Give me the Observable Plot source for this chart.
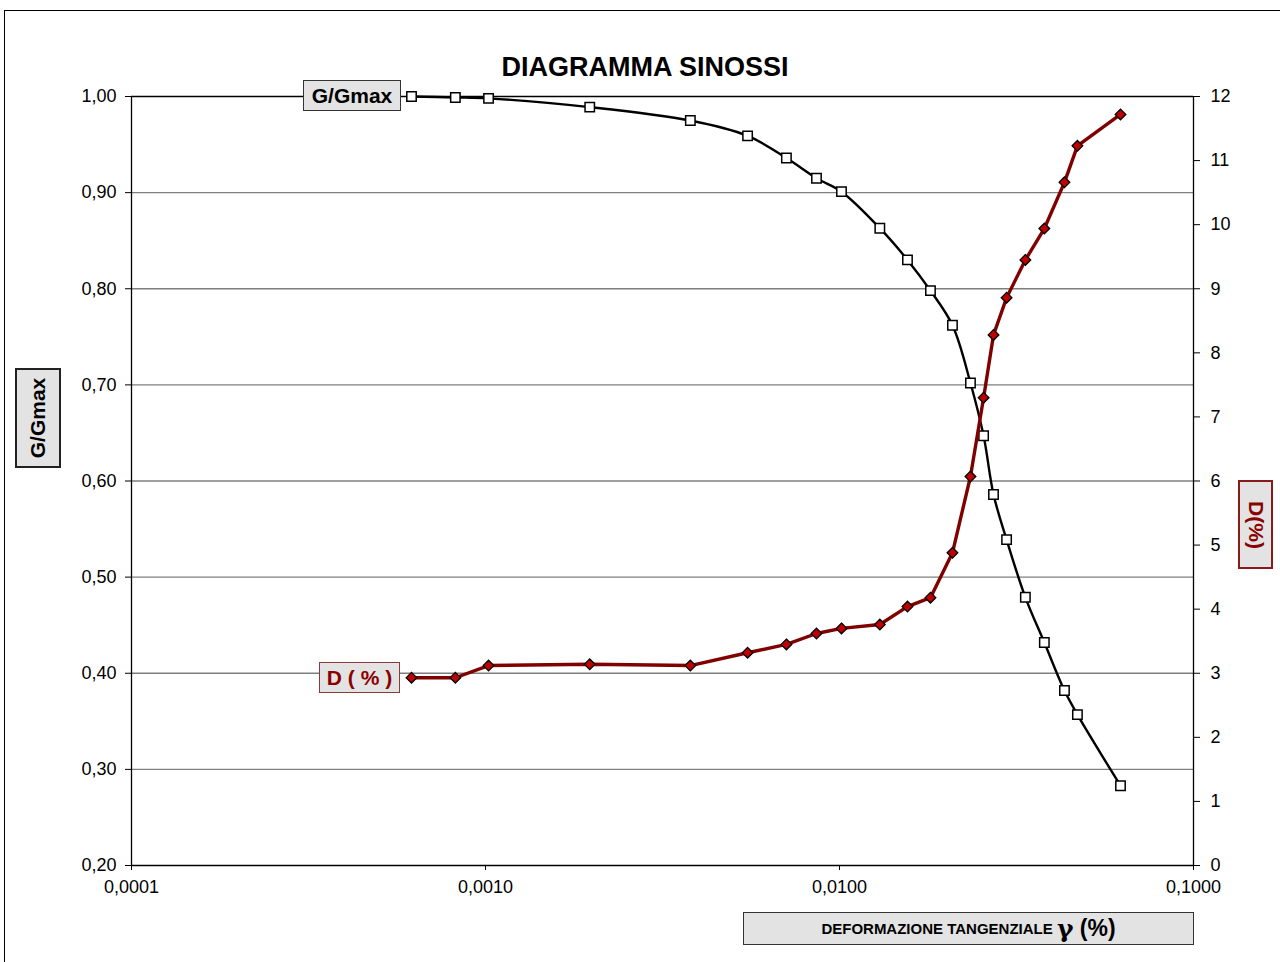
<!DOCTYPE html>
<html>
<head>
<meta charset="utf-8">
<script src="https://cdn.jsdelivr.net/npm/d3@7"></script>
<script src="https://cdn.jsdelivr.net/npm/@observablehq/plot@0.6"></script>
<style>
  html, body { margin: 0; padding: 0; background: #fff; }
  body { font-family: "Liberation Sans", Arial, sans-serif; }
  #wrap { position: relative; width: 1280px; height: 962px; overflow: hidden; }
  #frame { position: absolute; left: 4px; top: 10px; width: 1400px; height: 1000px;
           border-left: 1px solid #000; border-top: 1px solid #000; box-sizing: border-box; }
  #chart { position: absolute; left: 0; top: 0; }
  .title { position: absolute; left: 645px; top: 52px; transform: translateX(-50%);
           font-weight: bold; font-size: 27px; white-space: nowrap; color: #000; }
  .box { position: absolute; display: flex; align-items: center; justify-content: center;
         background: #e3e3e3; box-sizing: border-box; font-weight: bold; white-space: nowrap; }
</style>
</head>
<body>
<div id="wrap">
  <div id="frame"></div>
  <div id="chart"></div>
  <div class="title">DIAGRAMMA SINOSSI</div>
  <div class="box" style="left:303px;top:80px;width:98px;height:31px;border:1px solid #333;font-size:21px;color:#000;">G/Gmax</div>
  <div class="box" style="left:319px;top:662px;width:81px;height:31px;border:1px solid #8b3a3a;font-size:21px;color:#8b0000;">D ( % )</div>
  <div class="box" style="left:15px;top:368px;width:46px;height:100px;border:2px solid #222;font-size:21px;color:#000;">
    <span style="display:inline-block;transform:rotate(-90deg);">G/Gmax</span></div>
  <div class="box" style="left:1238px;top:480px;width:35px;height:89px;border:2px solid #8b1a1a;font-size:21px;color:#8b0000;">
    <span style="display:inline-block;transform:rotate(90deg);">D(%)</span></div>
  <div class="box" style="left:743px;top:912px;width:451px;height:33px;border:1px solid #333;color:#000;">
    <span style="font-size:15px;">DEFORMAZIONE TANGENZIALE&nbsp;</span><span style="font-size:25px;font-family:'DejaVu Serif',serif;">γ</span><span style="font-size:23px;">&nbsp;(%)</span></div>
</div>
<script>
// Shear strain (%)
const strain = [0.000618, 0.000822, 0.00102, 0.00197, 0.00379, 0.00550, 0.00708, 0.00861, 0.01013, 0.0130,
                0.01556, 0.01807, 0.02085, 0.02344, 0.02553, 0.02723, 0.02965, 0.0335, 0.0379, 0.0432, 0.0470, 0.0622];
// Normalised shear modulus G/Gmax
const gRatio = [1.000, 0.999, 0.998, 0.989, 0.975, 0.959, 0.936, 0.915, 0.901, 0.863,
                0.830, 0.798, 0.762, 0.702, 0.647, 0.586, 0.539, 0.479, 0.432, 0.382, 0.357, 0.283];
// Damping ratio D (%)
const damping = [2.93, 2.93, 3.12, 3.14, 3.12, 3.32, 3.45, 3.62, 3.70, 3.76,
                 4.04, 4.18, 4.88, 6.07, 7.30, 8.28, 8.86, 9.45, 9.94, 10.66, 11.23, 11.72];

const xTicks = [0.0001, 0.001, 0.01, 0.1];
const xTickLabels = ["0,0001", "0,0010", "0,0100", "0,1000"];
const leftTicks = [0.2, 0.3, 0.4, 0.5, 0.6, 0.7, 0.8, 0.9, 1.0];
const rightTicks = [0, 1, 2, 3, 4, 5, 6, 7, 8, 9, 10, 11, 12];
const gridLines = [0.3, 0.4, 0.5, 0.6, 0.7, 0.8, 0.9];

// map D (0..12) onto the G/Gmax scale (0.2..1.0) for the secondary axis
const gMin = 0.2, gMax = 1.0, dMax = 12;
const dToG = d => gMin + d / dMax * (gMax - gMin);

const gData = strain.map((s, i) => ({x: s, y: gRatio[i]}));
const dData = strain.map((s, i) => ({x: s, y: dToG(damping[i])}));

const comma = s => s.replace(".", ",");

const chart = Plot.plot({
  width: 1280,
  height: 962,
  marginLeft: 131,
  marginRight: 87,
  marginTop: 96,
  marginBottom: 97,
  style: {fontFamily: "'Liberation Sans', Arial, sans-serif", fontSize: "18px", background: "transparent", color: "#000"},
  x: {type: "log", domain: [0.0001, 0.1]},
  y: {domain: [gMin, gMax]},
  marks: [
    Plot.ruleY(gridLines, {stroke: "#7f7f7f", strokeWidth: 1.3}),
    Plot.ruleY([gMax], {stroke: "#000", strokeWidth: 1.3}),
    Plot.ruleY([gMin], {stroke: "#000", strokeWidth: 1.3}),
    Plot.ruleX([0.0001], {stroke: "#000", strokeWidth: 1.3}),
    Plot.ruleX([0.1], {stroke: "#000", strokeWidth: 1.3}),
    Plot.axisY(leftTicks, {anchor: "left", tickSize: 6, tickPadding: 9, fontSize: 18,
      tickFormat: d => comma(d3.format(".2f")(d)), label: null}),
    Plot.axisY(rightTicks.map(dToG), {anchor: "right", tickSize: 6, tickPadding: 11, fontSize: 18,
      tickFormat: d => String(Math.round((d - gMin) / (gMax - gMin) * dMax)), label: null}),
    Plot.axisX(xTicks, {anchor: "bottom", tickSize: 5, tickPadding: 10, fontSize: 18,
      tickFormat: d => xTickLabels[xTicks.indexOf(d)], label: null}),
    Plot.line(gData, {x: "x", y: "y", stroke: "#000", strokeWidth: 2.4, curve: "catmull-rom"}),
    Plot.dot(gData, {x: "x", y: "y", symbol: "square", r: 5.3, fill: "#fff", stroke: "#000", strokeWidth: 1.5}),
    Plot.line(dData, {x: "x", y: "y", stroke: "#800000", strokeWidth: 3.4}),
    Plot.dot(dData, {x: "x", y: "y", symbol: "diamond2", r: 4.8, fill: "#c00000", stroke: "#000", strokeWidth: 1.3})
  ]
});
document.getElementById("chart").appendChild(chart);
</script>
</body>
</html>
